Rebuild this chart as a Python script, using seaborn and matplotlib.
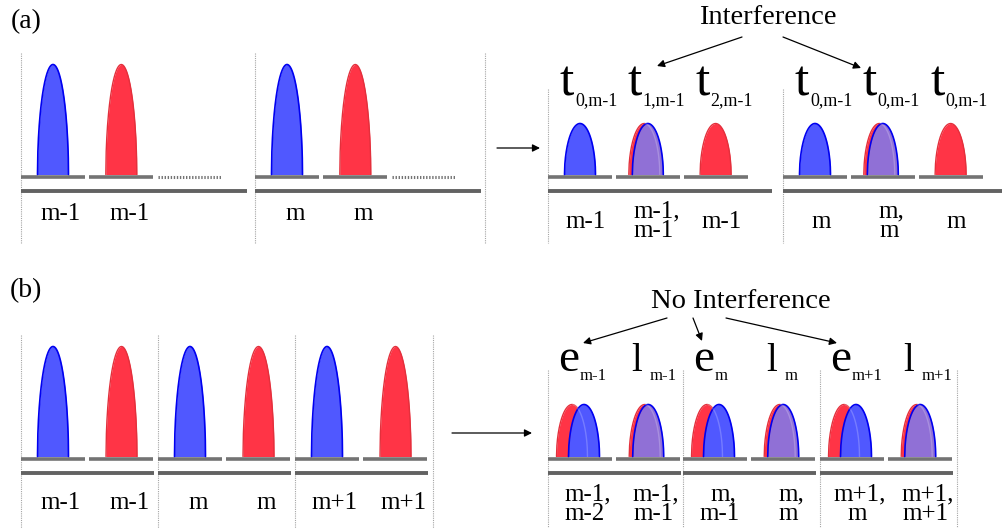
import numpy as np
import pandas as pd
import matplotlib
matplotlib.use("Agg")
import matplotlib.pyplot as plt
import seaborn as sns

sns.set_theme(style="white")
plt.rcParams["font.family"] = ["Liberation Serif", "DejaVu Serif"]
plt.rcParams["text.color"] = "black"

# ---------------- data ----------------
panel_tags = ["(a)", "(b)"]
titles = ["Interference", "No Interference"]

# (a) before: two cells, three slots each (third slot empty / dotted)
a_before_pulses = ["blue", "red", None, "blue", "red", None]
a_before_labels = ["m-1", "m-1", "", "m", "m", ""]
# (a) after
a_after_pulses = ["blue", "both", "red", "blue", "both", "red"]
a_after_letter = ["t", "t", "t", "t", "t", "t"]
a_after_subs = ["0,m-1", "1,m-1", "2,m-1", "0,m-1", "0,m-1", "0,m-1"]
a_after_top = ["m-1", "m-1,", "m-1", "m", "m,", "m"]
a_after_bottom = ["", "m-1", "", "", "m", ""]
# (b) before
b_before_pulses = ["blue", "red", "blue", "red", "blue", "red"]
b_before_labels = ["m-1", "m-1", "m", "m", "m+1", "m+1"]
# (b) after
b_after_pulses = ["early", "late", "early", "late", "early", "late"]
b_after_letter = ["e", "l", "e", "l", "e", "l"]
b_after_subs = ["m-1", "m-1", "m", "m", "m+1", "m+1"]
b_after_top = ["m-1,", "m-1,", "m,", "m,", "m+1,", "m+1,"]
b_after_bottom = ["m-2", "m-1", "m-1", "m", "m", "m+1"]

# ---------------- style ----------------
BLUE_FILL = "#5058ff"
BLUE_EDGE = "#0000f0"
RED_FILL = "#ff3446"
RED_EDGE = "#e3303c"
PURPLE = "#9070d6"
GRAY = "#737373"
DARK = "#626262"
DOT = "#a5a5a5"

fig = plt.figure(figsize=(10.03, 5.28), dpi=100)
ax = fig.add_axes([0, 0, 1, 1])

u = np.linspace(-1, 1, 161)
SHAPE_P = 0.52


def pulse(xc, base, h, fill, edge, z, lw=1.2, w=15.5):
    x = xc + w * u
    y = base - h * (1 - u ** 2) ** SHAPE_P
    ax.fill_between(x, base, y, color=fill, lw=0, zorder=z)
    df = pd.DataFrame({"x": np.r_[x[0], x, x[-1]], "y": np.r_[base, y, base]})
    sns.lineplot(data=df, x="x", y="y", sort=False, estimator=None,
                 color=edge, lw=lw, ax=ax, zorder=z + 0.1, legend=False)


def streak(xc, base, h, z, w=15.5):
    uu = u[u > 0.05]
    ax.plot(xc + w * uu, base - h * (1 - uu ** 2) ** SHAPE_P, color="white",
            alpha=0.22, lw=1.0, zorder=z)


def draw_pulse(kind, c, base, h):
    if kind == "blue":
        pulse(c, base, h, BLUE_FILL, BLUE_EDGE, 3)
    elif kind == "red":
        pulse(c, base, h, RED_FILL, RED_EDGE, 3, lw=1.0)
    elif kind in ("both", "late"):
        pulse(c - 3.5, base, h, RED_FILL, RED_EDGE, 3, lw=1.0)
        pulse(c, base, h, PURPLE, BLUE_EDGE, 4)
        streak(c - 3.5, base, h, 5)
    elif kind == "early":
        pulse(c - 8, base, h, RED_FILL, RED_EDGE, 3, lw=1.0)
        pulse(c + 4, base, h, BLUE_FILL, BLUE_EDGE, 4)
        streak(c - 8, base, h, 5)


def slots(cell_starts, per_cell, pitch):
    return [s + k * pitch for s in cell_starts for k in range(per_cell)]


SW = 64  # slot width
FS = 18


def hline(x0, x1, y, color, lw=2.6, ls="-"):
    ax.plot([x0, x1], [y, y], color=color, lw=lw, ls=ls, solid_capstyle="butt",
            zorder=2)


def vdot(x, y0, y1):
    ax.plot([x, x], [y0, y1], color=DOT, lw=0.8, ls=(0, (1, 1)), zorder=1)


def arrow(x0, y0, x1, y1):
    ax.annotate("", xy=(x1, y1), xytext=(x0, y0),
                arrowprops=dict(arrowstyle="-|>", color="black", lw=0.9,
                                mutation_scale=11, shrinkA=0, shrinkB=0))


# ---------- panel (a) before ----------
a_b_slots = slots([21, 255], 3, 68.3)
for xs in [21, 255, 485]:
    vdot(xs, 53, 243)
for i, s in enumerate(a_b_slots):
    c = s + SW / 2
    if a_before_pulses[i] is None:
        hline(s, s + SW, 177, GRAY, lw=2.2, ls=(0, (0.45, 0.55)))
    else:
        hline(s, s + SW, 177, GRAY)
        draw_pulse(a_before_pulses[i], c, 174.5, 110)
    if a_before_labels[i]:
        ax.text(c + 8, 214, a_before_labels[i], ha="center", va="center",
                fontsize=FS)
for s in [21, 255]:
    hline(s, s + 226, 191, DARK, lw=2.8)

# ---------- panel (a) after ----------
a_a_slots = slots([548, 783], 3, 67.8)
for xs in [548, 783]:
    vdot(xs, 89, 243)
for i, s in enumerate(a_a_slots):
    c = s + SW / 2
    hline(s, s + SW, 177, GRAY)
    draw_pulse(a_after_pulses[i], c, 174.5, 51)
    cc = c + 7
    ax.text(cc - 13, 96, a_after_letter[i], ha="right", va="baseline",
            fontsize=37)
    ax.text(cc - 12, 105, a_after_subs[i], ha="left", va="baseline",
            fontsize=13)
    if a_after_bottom[i]:
        shift = 3 if a_after_top[i].endswith(",") else 0
        ax.text(cc - 1 + shift, 211, a_after_top[i], ha="center", va="center",
                fontsize=FS)
        ax.text(cc - 1, 231, a_after_bottom[i], ha="center", va="center",
                fontsize=FS)
    else:
        ax.text(cc - 1, 222, a_after_top[i], ha="center", va="center",
                fontsize=FS)
for s in [548, 783]:
    hline(s, s + 224, 191, DARK, lw=2.8)

# ---------- panel (b) before ----------
b_b_slots = slots([21, 158, 295], 2, 68.5)
for xs in [21, 158, 295, 433]:
    vdot(xs, 335, 528)
for i, s in enumerate(b_b_slots):
    c = s + SW / 2
    hline(s, s + SW, 459, GRAY)
    draw_pulse(b_before_pulses[i], c, 456.5, 110)
    ax.text(c + 8, 503, b_before_labels[i], ha="center", va="center",
            fontsize=FS)
for s in [21, 158, 295]:
    hline(s, s + 133, 473, DARK, lw=2.8)

# ---------- panel (b) after ----------
b_a_slots = slots([548, 683, 820], 2, 68.2)
for xs in [548, 683, 820, 957]:
    vdot(xs, 370, 528)
for i, s in enumerate(b_a_slots):
    c = s + SW / 2
    hline(s, s + SW, 459, GRAY)
    draw_pulse(b_after_pulses[i], c, 456.5, 52)
    if b_after_letter[i] == "e":
        lx, lfs, gap = c - 22, 34, 22
    else:
        lx, lfs, gap = c - 17, 28, 18
    ax.text(lx, 371, b_after_letter[i], ha="left", va="baseline", fontsize=lfs)
    ax.text(lx + gap, 380, b_after_subs[i], ha="left", va="baseline",
            fontsize=12)
    cc = c + 5
    ax.text(cc + 3, 494, b_after_top[i], ha="center", va="center", fontsize=FS)
    ax.text(cc, 514, b_after_bottom[i], ha="center", va="center", fontsize=FS)
for s in [548, 683, 820]:
    hline(s, s + 133, 473, DARK, lw=2.8)

# ---------- tags, titles, arrows ----------
ax.text(26, 22, panel_tags[0], ha="center", va="center", fontsize=20)
ax.text(26, 291, panel_tags[1], ha="center", va="center", fontsize=20)
ax.text(768, 17, titles[0], ha="center", va="center", fontsize=20.5)
ax.text(741, 302, titles[1], ha="center", va="center", fontsize=20.5)

arrow(497, 148, 540, 148)
arrow(452, 433, 532, 433)
arrow(742, 37, 657, 66)
arrow(783, 37, 861, 68)
arrow(667, 318, 583, 343)
arrow(693, 318, 702, 341)
arrow(726, 318, 837, 343)

ax.set_xlim(0, 1003)
ax.set_ylim(528, 0)
ax.set_xlabel("")
ax.set_ylabel("")
ax.axis("off")

fig.savefig("out.png", dpi=100, facecolor="white")
